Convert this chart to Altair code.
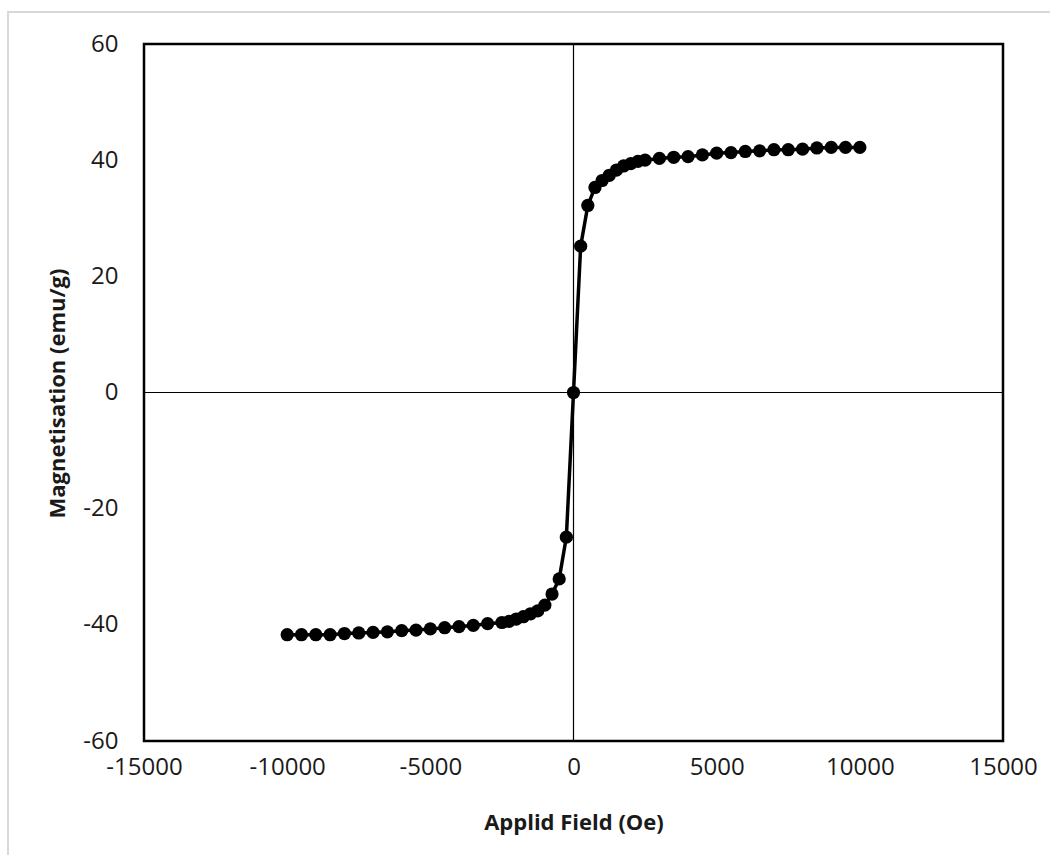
import altair as alt
import pandas as pd

field = [-10000, -9500, -9000, -8500, -8000, -7500, -7000, -6500, -6000, -5500,
         -5000, -4500, -4000, -3500, -3000, -2500, -2250, -2000, -1750, -1500,
         -1250, -1000, -750, -500, -250, 0, 250, 500, 750, 1000, 1250, 1500,
         1750, 2000, 2250, 2500, 3000, 3500, 4000, 4500, 5000, 5500, 6000,
         6500, 7000, 7500, 8000, 8500, 9000, 9500, 10000]
magnet = [-41.7, -41.7, -41.7, -41.7, -41.5, -41.4, -41.3, -41.2, -41.0, -40.9,
          -40.7, -40.5, -40.3, -40.1, -39.8, -39.6, -39.4, -39.0, -38.6, -38.1,
          -37.6, -36.6, -34.7, -32.1, -24.9, 0.0, 25.2, 32.2, 35.3, 36.5, 37.4, 38.3,
          39.0, 39.4, 39.8, 40.0, 40.3, 40.5, 40.6, 40.9, 41.2, 41.3, 41.5,
          41.6, 41.8, 41.8, 41.9, 42.1, 42.2, 42.2, 42.2]

x_ticks = [-15000, -10000, -5000, 0, 5000, 10000, 15000]
y_ticks = [-60, -40, -20, 0, 20, 40, 60]

df = pd.DataFrame({"field": field, "m": magnet})

FONT = "Open Sans"
LABEL_EXPR = "datum.value < 0 ? '-' + format(-datum.value, 'd') : format(datum.value, 'd')"

x_enc = alt.X("field:Q",
              scale=alt.Scale(domain=[-15000, 15000], nice=False, zero=False),
              axis=alt.Axis(values=x_ticks, title="Applid Field (Oe)", grid=False,
                            ticks=False, tickSize=0, domain=False, labelPadding=14,
                            labelExpr=LABEL_EXPR,
                            labelFontSize=24, labelFont=FONT, labelColor="#1a1a1a",
                            titleFontSize=22, titleFont=FONT, titleFontWeight="bold",
                            titleColor="#1a1a1a", titleBaseline="alphabetic", titleY=88,
                            labelFlush=False, labelOverlap=False))
y_enc = alt.Y("m:Q",
              scale=alt.Scale(domain=[-60, 60], nice=False, zero=False),
              axis=alt.Axis(values=y_ticks, title="Magnetisation (emu/g)", grid=False,
                            ticks=False, tickSize=0, domain=False, labelPadding=26,
                            labelExpr=LABEL_EXPR,
                            labelFontSize=24, labelFont=FONT, labelColor="#1a1a1a",
                            titleFontSize=22, titleFont=FONT, titleFontWeight="bold",
                            titleColor="#1a1a1a", titleAngle=-90, titleBaseline="middle",
                            titleX=-87, titleY=349, titleAlign="center",
                            labelFlush=False, labelOverlap=False))

border = alt.Chart(pd.DataFrame({"a": [0]})).mark_rect(
    fillOpacity=0, stroke="#d9d9d9", strokeWidth=2
).encode(x=alt.value(-136), x2=alt.value(920), y=alt.value(-32), y2=alt.value(830))

zero = pd.DataFrame({"z": [0]})
vrule = alt.Chart(zero).mark_rule(color="black", strokeWidth=1.2).encode(
    x=alt.X("z:Q", scale=alt.Scale(domain=[-15000, 15000], nice=False)))
hrule = alt.Chart(zero).mark_rule(color="black", strokeWidth=1.2).encode(
    y=alt.Y("z:Q", scale=alt.Scale(domain=[-60, 60], nice=False)))

line = alt.Chart(df).mark_line(color="black", strokeWidth=3.5).encode(x=x_enc, y=y_enc)
pts = alt.Chart(df).mark_circle(color="black", opacity=1, size=175).encode(x=x_enc, y=y_enc)

chart = alt.layer(border, vrule, hrule, line, pts).properties(
    width=859, height=697,
    autosize=alt.AutoSizeParams(type="none"),
    padding={"left": 144, "top": 44, "right": 47, "bottom": 114},
    background="white",
).configure_view(stroke="black", strokeWidth=2.5)

chart.save("out.html", embed_options={"renderer": "svg", "actions": False})
